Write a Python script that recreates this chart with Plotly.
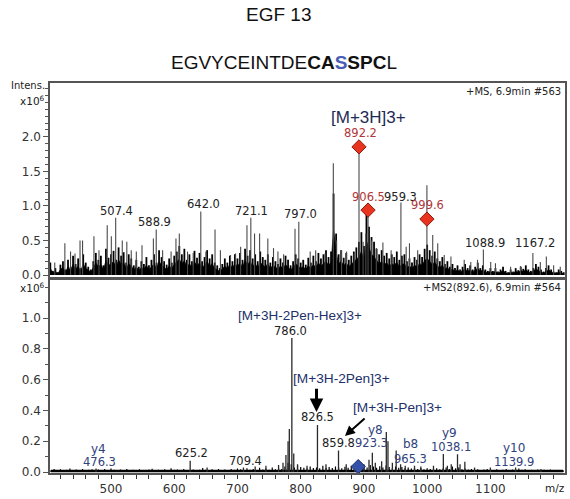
import plotly.graph_objects as go

# ---------------- DATA ----------------
# MS1 (+MS) dense profile, sampled from m/z 404 every 4 units (intensity x10^6)
ms1_profile_start = 404
ms1_profile_step = 4
ms1_profile_a = [0.18, 0.06, 0.10, 0.04, 0.15, 0.20, 0.08, 0.22, 0.12, 0.28, 0.16, 0.24, 0.10,
                 0.30, 0.18, 0.12, 0.08, 0.20, 0.32, 0.22, 0.28, 0.14, 0.38, 0.25, 0.30]
ms1_profile_b = [0.35, 0.22, 0.40, 0.28, 0.33, 0.18, 0.30, 0.24, 0.14, 0.22, 0.12, 0.20, 0.16,
                 0.26, 0.14, 0.22, 0.30, 0.18, 0.36, 0.26, 0.20, 0.15, 0.24, 0.18, 0.28]
ms1_profile_c = [0.34, 0.42, 0.30, 0.38, 0.22, 0.30, 0.20, 0.35, 0.25, 0.32, 0.20, 0.26, 0.36,
                 0.24, 0.30, 0.18, 0.14, 0.10, 0.16, 0.24, 0.18, 0.28, 0.20, 0.30, 0.24]
ms1_profile_d = [0.32, 0.22, 0.38, 0.28, 0.36, 0.24, 0.30, 0.20, 0.34, 0.26, 0.22, 0.30, 0.18,
                 0.26, 0.20, 0.16, 0.24, 0.18, 0.28, 0.22, 0.14, 0.20, 0.30, 0.24, 0.18]
ms1_profile_e = [0.22, 0.15, 0.25, 0.18, 0.28, 0.20, 0.32, 0.24, 0.30, 0.36, 0.26, 0.34, 1.18,
                 0.60, 0.30, 0.36, 0.25, 0.32, 0.22, 0.28, 0.34, 0.40, 0.48, 0.62, 0.42]
ms1_profile_f = [0.90, 0.70, 0.55, 0.48, 0.38, 0.30, 0.36, 0.28, 0.32, 0.24, 0.30, 0.26, 0.34,
                 0.22, 0.28, 0.30, 0.20, 0.24, 0.18, 0.26, 0.22, 0.30, 0.26, 0.38, 0.44]
ms1_profile_g = [0.36, 0.28, 0.34, 0.24, 0.20, 0.26, 0.16, 0.20, 0.12, 0.16, 0.10, 0.14, 0.08,
                 0.12, 0.16, 0.10, 0.14, 0.08, 0.12, 0.18, 0.10, 0.14, 0.08, 0.06, 0.10]
ms1_profile_h = [0.06, 0.10, 0.05, 0.08, 0.12, 0.06, 0.04, 0.08, 0.05, 0.10, 0.07, 0.12, 0.09,
                 0.14, 0.08, 0.06, 0.10, 0.16, 0.12, 0.08, 0.05, 0.10, 0.14, 0.08, 0.05, 0.04,
                 0.08, 0.06, 0.04]

# MS1 centroid sticks
ms1_stick_mz = [411, 427, 436, 443, 451, 455, 473, 481, 494, 500.5, 507.4, 517.8, 525, 532, 540,
                549, 567, 571.5, 581.6, 595, 602.7, 608, 621, 630, 642.0, 650, 664.5, 673, 689,
                697, 705, 715, 721.1, 727, 735, 748, 757, 764, 773, 791, 797.0, 815, 823.7, 838.5,
                851.6, 856.8, 864.6, 872.5, 884.6, 892.2, 898.7, 903, 906.5, 911.8, 919.6, 930,
                943, 958.5, 966.8, 972, 985, 999.6, 1008.8, 1016.7, 1027, 1037.6, 1058.6, 1069,
                1079.6, 1088.9, 1100.5, 1108, 1132, 1147.6, 1167.2, 1179, 1188.5, 1200, 1210.5]
ms1_stick_int = [0.18, 0.46, 0.34, 0.31, 0.50, 0.50, 0.56, 0.36, 0.72, 0.56, 0.83, 0.50, 0.48, 0.36,
                 0.34, 0.43, 0.53, 0.66, 0.36, 0.34, 0.53, 0.60, 0.34, 0.32, 0.92, 0.34, 0.66, 0.36,
                 0.29, 0.31, 0.41, 0.72, 0.83, 0.60, 0.60, 0.53, 0.39, 0.34, 0.30, 0.67, 0.77, 0.34,
                 0.36, 0.31, 1.62, 0.50, 0.36, 0.34, 0.31, 1.855, 0.48, 0.60, 0.94, 0.50, 0.39,
                 0.47, 0.36, 1.05, 0.41, 0.46, 0.36, 1.30, 0.58, 0.46, 0.29, 0.27, 0.22, 0.19,
                 0.22, 0.37, 0.19, 0.17, 0.12, 0.13, 0.32, 0.19, 0.27, 0.14, 0.12]

# MS1 compound (precursor isotope) markers
ms1_marker_mz = [892.2, 906.5, 999.6]
ms1_marker_int = [1.855, 0.94, 0.81]
ms1_marker_text = ["892.2", "906.5", "999.6"]

# MS1 labelled peaks (black)
ms1_label_text = ["507.4", "588.9", "642.0", "721.1", "797.0", "959.3", "1088.9", "1167.2"]

# MS2 baseline noise, sampled from m/z 405 every 5 units
ms2_noise_start = 405
ms2_noise_step = 5
ms2_noise_a = [0.012, 0.020, 0.010, 0.018, 0.008, 0.015, 0.022, 0.010, 0.016, 0.012,
               0.020, 0.009, 0.014, 0.018, 0.011, 0.016, 0.010, 0.019, 0.013, 0.022]
ms2_noise_b = [0.014, 0.010, 0.017, 0.012, 0.020, 0.009, 0.015, 0.011, 0.018, 0.013,
               0.010, 0.016, 0.021, 0.012, 0.015, 0.009, 0.018, 0.012, 0.024, 0.014]
ms2_noise_c = [0.016, 0.011, 0.019, 0.013, 0.010, 0.017, 0.012, 0.015, 0.026, 0.014,
               0.011, 0.018, 0.013, 0.020, 0.010, 0.016, 0.012, 0.019, 0.014, 0.022]
ms2_noise_d = [0.018, 0.012, 0.024, 0.015, 0.020, 0.013, 0.028, 0.016, 0.022, 0.014,
               0.030, 0.018, 0.025, 0.020, 0.035, 0.060, 0.050, 0.030, 0.040, 0.032]
ms2_noise_e = [0.028, 0.022, 0.035, 0.026, 0.030, 0.024, 0.040, 0.028, 0.032, 0.026,
               0.036, 0.030, 0.025, 0.034, 0.028, 0.040, 0.030, 0.026, 0.033, 0.028]
ms2_noise_f = [0.030, 0.045, 0.035, 0.028, 0.038, 0.030, 0.042, 0.032, 0.026, 0.035,
               0.028, 0.033, 0.025, 0.030, 0.022, 0.028, 0.020, 0.026, 0.018, 0.024]
ms2_noise_g = [0.020, 0.016, 0.024, 0.018, 0.022, 0.030, 0.020, 0.035, 0.024, 0.030,
               0.018, 0.022, 0.016, 0.020, 0.014, 0.018, 0.012, 0.016, 0.020, 0.014]
ms2_noise_h = [0.012, 0.018, 0.010, 0.015, 0.020, 0.012, 0.016, 0.010, 0.022, 0.014,
               0.018, 0.011, 0.015, 0.010, 0.017, 0.012, 0.014, 0.009, 0.016, 0.011,
               0.013, 0.010, 0.012]

# MS2 fragment peaks
ms2_peak_mz = [476.3, 625.2, 652, 709.4, 728, 745, 765, 772, 776.6, 780, 782, 786.0, 789, 795,
               810, 826.5, 840, 859.8, 872, 885, 900, 908, 913.3, 918, 928, 935.4, 938, 945,
               951, 958, 965.3, 980, 990, 1010, 1025.6, 1032, 1038.1, 1048, 1052, 1059.6,
               1075, 1100, 1139.9, 1180]
ms2_peak_int = [0.022, 0.073, 0.030, 0.030, 0.035, 0.040, 0.045, 0.060, 0.110, 0.200, 0.280,
                0.870, 0.120, 0.050, 0.040, 0.305, 0.050, 0.140, 0.050, 0.040, 0.050, 0.080,
                0.125, 0.060, 0.070, 0.260, 0.200, 0.060, 0.140, 0.050, 0.040, 0.040, 0.035,
                0.040, 0.117, 0.040, 0.050, 0.115, 0.050, 0.067, 0.030, 0.030, 0.030, 0.020]

# MS2 precursor marker
ms2_precursor_mz = [891.0]
ms2_precursor_int = [0.035]

x_ticks = [500, 600, 700, 800, 900, 1000, 1100]

# ---------------- BUILD ----------------
ms1_profile = (ms1_profile_a + ms1_profile_b + ms1_profile_c + ms1_profile_d +
               ms1_profile_e + ms1_profile_f + ms1_profile_g + ms1_profile_h)
ms1_profile_mz = [ms1_profile_start + i * ms1_profile_step for i in range(len(ms1_profile))]
ms2_noise = (ms2_noise_a + ms2_noise_b + ms2_noise_c + ms2_noise_d +
             ms2_noise_e + ms2_noise_f + ms2_noise_g + ms2_noise_h)
ms2_noise_mz = [ms2_noise_start + i * ms2_noise_step for i in range(len(ms2_noise))]


def sticks(mz, h):
    xs, ys = [], []
    for m, v in zip(mz, h):
        xs += [m, m, None]
        ys += [0, v, None]
    return xs, ys


NUM_FONT = "DejaVu Sans, Verdana, sans-serif"
TXT_FONT = "Liberation Sans, Arial, sans-serif"
AX = "#555555"

fig = go.Figure()

# Top panel: profile drawn as filled area plus dense vertical strokes
fig.add_trace(go.Scatter(x=ms1_profile_mz, y=[v * 0.55 for v in ms1_profile], mode="lines",
                         fill="tozeroy", fillcolor="black", line=dict(color="black", width=0.6),
                         xaxis="x", yaxis="y", hoverinfo="skip"))
bx, by = sticks(ms1_profile_mz, ms1_profile)
fig.add_trace(go.Scatter(x=bx, y=by, mode="lines", line=dict(color="black", width=1.8),
                         xaxis="x", yaxis="y", hoverinfo="skip"))
sx, sy = sticks(ms1_stick_mz, ms1_stick_int)
fig.add_trace(go.Scatter(x=sx, y=sy, mode="lines", line=dict(color="#4a4a4a", width=1.1),
                         xaxis="x", yaxis="y", hoverinfo="skip"))
fig.add_trace(go.Scatter(x=ms1_marker_mz, y=ms1_marker_int, mode="markers",
                         marker=dict(symbol="diamond", size=11, color="#e8331f",
                                     line=dict(color="#8a1a10", width=1)),
                         xaxis="x", yaxis="y", hoverinfo="skip"))

# Bottom panel
nx, ny = sticks(ms2_noise_mz, ms2_noise)
fig.add_trace(go.Scatter(x=nx, y=ny, mode="lines", line=dict(color="black", width=1.2),
                         xaxis="x2", yaxis="y2", hoverinfo="skip"))
fig.add_trace(go.Scatter(x=[ms2_noise_mz[0], ms2_noise_mz[-1]], y=[0.006, 0.006], mode="lines",
                         line=dict(color="black", width=2.5), xaxis="x2", yaxis="y2",
                         hoverinfo="skip"))
px_, py_ = sticks(ms2_peak_mz, ms2_peak_int)
fig.add_trace(go.Scatter(x=px_, y=py_, mode="lines", line=dict(color="#2a2a2a", width=1.3),
                         xaxis="x2", yaxis="y2", hoverinfo="skip"))
fig.add_trace(go.Scatter(x=ms2_precursor_mz, y=ms2_precursor_int, mode="markers",
                         marker=dict(symbol="diamond", size=11, color="#3552a8",
                                     line=dict(color="#1d2f6a", width=1)),
                         xaxis="x2", yaxis="y2", hoverinfo="skip"))

annotations = []


def txt(x, y, text, ref="1", size=11.5, color="#222222", font=NUM_FONT, **kw):
    a = dict(x=x, y=y, text=text, showarrow=False, xref="x" if ref == "1" else "x2",
             yref="y" if ref == "1" else "y2", font=dict(family=font, size=size, color=color),
             xanchor="center", yanchor="middle")
    a.update(kw)
    annotations.append(a)


# top-panel labels
ms1_label_pos = [(509, 0.93), (568.5, 0.77), (645.6, 1.03), (722.6, 0.93), (799.7, 0.88),
                 (958.5, 1.13), (1092, 0.46), (1170.7, 0.46)]
for t, (x, y) in zip(ms1_label_text, ms1_label_pos):
    txt(x, y, t)
ms1_marker_label_pos = [(894, 2.06), (906.6, 1.13), (1001, 1.01)]
for t, (x, y) in zip(ms1_marker_text, ms1_marker_label_pos):
    txt(x, y, t, color="#b0363a")
txt(906.6, 2.275, "[M+3H]3+", size=17, color="#1e2a55", font=TXT_FONT)

# bottom-panel labels
ION = "#22306a"
BLU = "#2f427c"
txt(799.6, 1.02, "[M+3H-2Pen-Hex]3+", ref="2", size=13.5, color=ION, font=TXT_FONT)
txt(784, 0.915, "786.0", ref="2")
txt(864, 0.61, "[M+3H-2Pen]3+", ref="2", size=13.7, color=ION, font=TXT_FONT)
txt(826.4, 0.357, "826.5", ref="2")
txt(953.7, 0.42, "[M+3H-Pen]3+", ref="2", size=13.7, color=ION, font=TXT_FONT)
txt(859.4, 0.188, "859.8", ref="2")
txt(917.6, 0.273, "y8", ref="2", color=BLU, size=12)
txt(912.5, 0.188, "923.3", ref="2", color=BLU)
txt(974, 0.18, "b8", ref="2", color=BLU, size=12)
txt(974, 0.084, "965.3", ref="2", color=BLU)
txt(1035.5, 0.253, "y9", ref="2", color=BLU, size=12)
txt(1037, 0.162, "1038.1", ref="2", color=BLU)
txt(1137.6, 0.156, "y10", ref="2", color=BLU, size=12)
txt(1137.6, 0.065, "1139.9", ref="2", color=BLU)
txt(480.7, 0.149, "y4", ref="2", color=BLU, size=12)
txt(482, 0.065, "476.3", ref="2", color=BLU)
txt(628, 0.123, "625.2", ref="2")
txt(713, 0.071, "709.4", ref="2")

# arrows
annotations.append(dict(x=825, y=0.39, ax=825, ay=0.55, xref="x2", yref="y2", axref="x2",
                        ayref="y2", text="", showarrow=True, arrowhead=2, arrowsize=0.9,
                        arrowwidth=3, arrowcolor="black"))
annotations.append(dict(x=870, y=0.234, ax=903.4, ay=0.357, xref="x2", yref="y2", axref="x2",
                        ayref="y2", text="", showarrow=True, arrowhead=2, arrowsize=1,
                        arrowwidth=2, arrowcolor="black"))


# paper-level texts
def ptxt(x, y, text, size, font, xanchor="center", color="#222222", yanchor="middle"):
    annotations.append(dict(x=x, y=y, xref="paper", yref="paper", text=text, showarrow=False,
                            xanchor=xanchor, yanchor=yanchor,
                            font=dict(family=font, size=size, color=color)))


PLOT_H = 390.0


def py2paper(py):
    return (473 - py) / PLOT_H


ptxt(0.443, py2paper(15), "EGF 13", 19, TXT_FONT, color="#111111")
ptxt(0.454, py2paper(62.5),
     "EGVYCEINTDE<b>CA<span style='color:#4a5db5'>S</span>SPC</b>L", 19, TXT_FONT,
     color="#111111")
ptxt(0.996, py2paper(91), "+MS, 6.9min #563", 10, NUM_FONT, xanchor="right")
ptxt(0.996, py2paper(287), "+MS2(892.6), 6.9min #564", 10, NUM_FONT, xanchor="right")
ptxt(-0.006, py2paper(93), "Intens.", 10, NUM_FONT, xanchor="right", yanchor="bottom")
ptxt(-0.006, py2paper(92), "x10<sup>6</sup>", 10.5, NUM_FONT, xanchor="right", yanchor="top")
ptxt(-0.006, py2paper(279), "x10<sup>6</sup>", 10.5, NUM_FONT, xanchor="right", yanchor="top")
ptxt(0.981, py2paper(488), "m/z", 10.5, NUM_FONT)

yaxis_common = dict(showline=True, linecolor=AX, linewidth=1.5, mirror=True, ticks="outside",
                    ticklen=5, tickcolor=AX, tickwidth=1, showgrid=False, zeroline=False,
                    tickformat=".1f", tickfont=dict(family=NUM_FONT, size=12, color="#333333"))

fig.update_layout(
    width=570, height=499,
    margin=dict(l=50, r=3, t=83, b=26),
    paper_bgcolor="white", plot_bgcolor="white",
    showlegend=False,
    xaxis=dict(domain=[0, 1], anchor="y", range=[403.5, 1218], matches="x2",
               showticklabels=False, showline=True, linecolor=AX, linewidth=1.5, mirror=True,
               ticks="", showgrid=False, zeroline=False),
    yaxis=dict(domain=[0.5, 1], anchor="x", range=[-0.043, 2.78],
               tickvals=[0.0, 0.5, 1.0, 1.5, 2.0],
               minor=dict(dtick=0.1, tick0=0, ticks="outside", ticklen=3, tickcolor=AX),
               **yaxis_common),
    xaxis2=dict(domain=[0, 1], anchor="y2", range=[403.5, 1218], tickvals=x_ticks,
                showline=True, linecolor=AX, linewidth=1.5, mirror=True, ticks="outside",
                ticklen=4, tickcolor="#333333", showgrid=False, zeroline=False,
                minor=dict(dtick=20, tick0=0, ticks="outside", ticklen=4, tickcolor="#333333"),
                tickfont=dict(family=NUM_FONT, size=12, color="#333333")),
    yaxis2=dict(domain=[0, 0.497], anchor="x2", range=[-0.0065, 1.253],
                tickvals=[0.0, 0.2, 0.4, 0.6, 0.8, 1.0],
                minor=dict(dtick=0.1, tick0=0, ticks="outside", ticklen=3, tickcolor=AX),
                **yaxis_common),
    annotations=annotations,
)

fig.write_html("out.html")
